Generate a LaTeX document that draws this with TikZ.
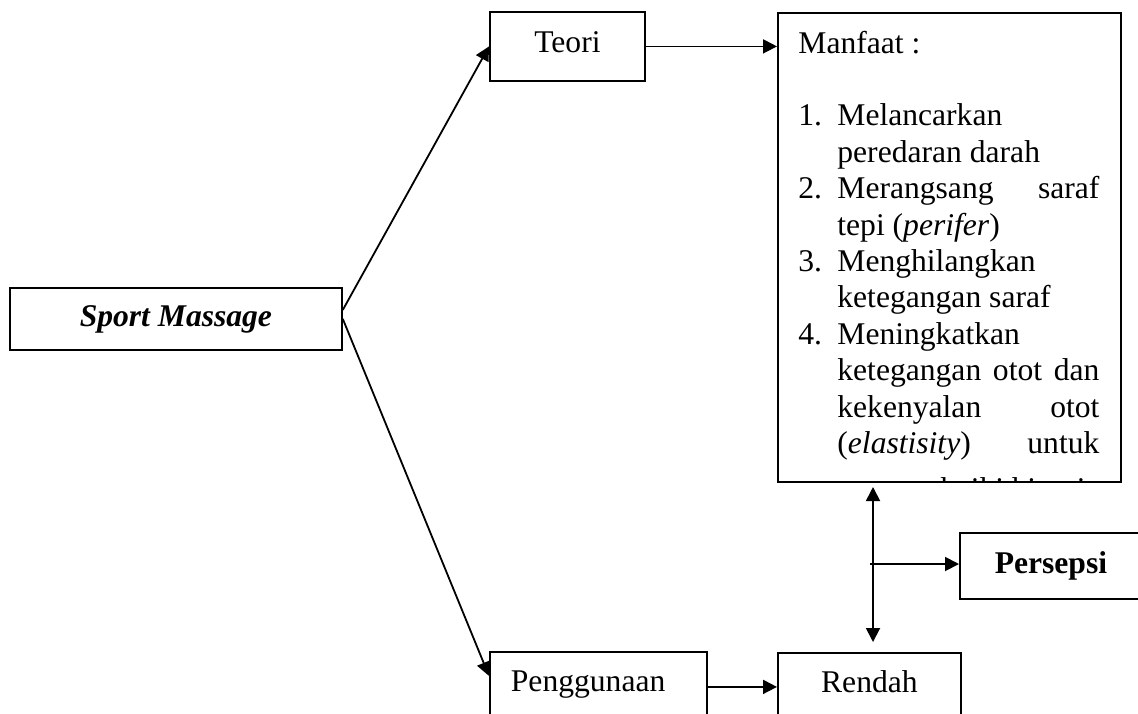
\documentclass[tikz,border=0pt]{standalone}
\usepackage{fontspec}
\setmainfont{Liberation Serif}
\usetikzlibrary{arrows.meta}

\newcommand\diagfont{\fontsize{15.8pt}{18.2pt}\selectfont}
\newcommand\numitem[1]{\makebox[19.5pt][l]{#1}}
\newcommand\fullline[1]{\makebox[131pt][s]{#1}}

\begin{document}
\begin{tikzpicture}[x=0.5pt,y=-0.5pt,
    box/.style={draw,line width=0.9pt,inner sep=0pt,anchor=north west,font=\diagfont,text height=11pt},
    arr/.style={line width=0.9pt,-{Triangle[length=7pt,width=7pt]}},
    dblarr/.style={line width=0.9pt,{Triangle[length=7pt,width=7pt]}-{Triangle[length=7pt,width=7pt]}}]
  \useasboundingbox (0,0) rectangle (1138,713);
  % boxes
  \node[box,minimum width=166pt,minimum height=31pt,text depth=3.5pt] (sport) at (9,287) {\textbf{\textit{Sport Massage}}};
  \node[box,minimum width=77.5pt,minimum height=34.5pt,text depth=4.5pt] (teori) at (489,11) {Teori};
  \node[box,minimum width=171.5pt,minimum height=234.5pt,text height=,text depth=] (manfaat) at (777,12) {};
  \node[box,minimum width=91pt,minimum height=33pt,text depth=3.5pt] (persepsi) at (959,532) {\textbf{Persepsi}};
  \node[box,minimum width=108.5pt,minimum height=35pt,text width=87.5pt,align=left,text depth=6.5pt] (penggunaan) at (489,651) {Penggunaan};
  \node[box,minimum width=91.5pt,minimum height=35pt,text depth=6.5pt] (rendah) at (777,652) {Rendah};
  % list inside the Manfaat box, cut at its lower edge
  \begin{scope}
    \clip (manfaat.north west) rectangle (manfaat.south east);
    \node[anchor=north west,inner sep=0pt,align=left,font=\diagfont] (manfaatlist) at (798,30.4) {Manfaat :\\[18.2pt]
      \numitem{1.}Melancarkan\\
      \numitem{}peredaran darah\\
      \numitem{2.}\fullline{Merangsang saraf}\\
      \numitem{}tepi (\textit{perifer})\\
      \numitem{3.}Menghilangkan\\
      \numitem{}ketegangan saraf\\
      \numitem{4.}Meningkatkan\\
      \numitem{}\fullline{ketegangan otot dan}\\
      \numitem{}\fullline{kekenyalan otot}\\
      \numitem{}\fullline{(\textit{elastisity}) untuk}\\[5pt]
      \numitem{}\fullline{memperbaiki kinerja}};
  \end{scope}
  % connectors
  \draw[arr] ([yshift=4.5pt]sport.east) -- (teori.west);
  \draw[arr] (sport.east) -- ([yshift=5.5pt]penggunaan.west);
  \draw[arr] (teori.east) -- (teori.east -| manfaat.west);
  \draw[arr] (penggunaan.east) -- (penggunaan.east -| rendah.west);
  \coordinate (vtop) at (873,487);
  \coordinate (vbot) at (873,642);
  \coordinate (vmid) at (870,564);
  \draw[dblarr] (vtop) -- (vbot);
  \draw[arr] (vmid) -- (vmid -| persepsi.west);
\end{tikzpicture}
\end{document}
